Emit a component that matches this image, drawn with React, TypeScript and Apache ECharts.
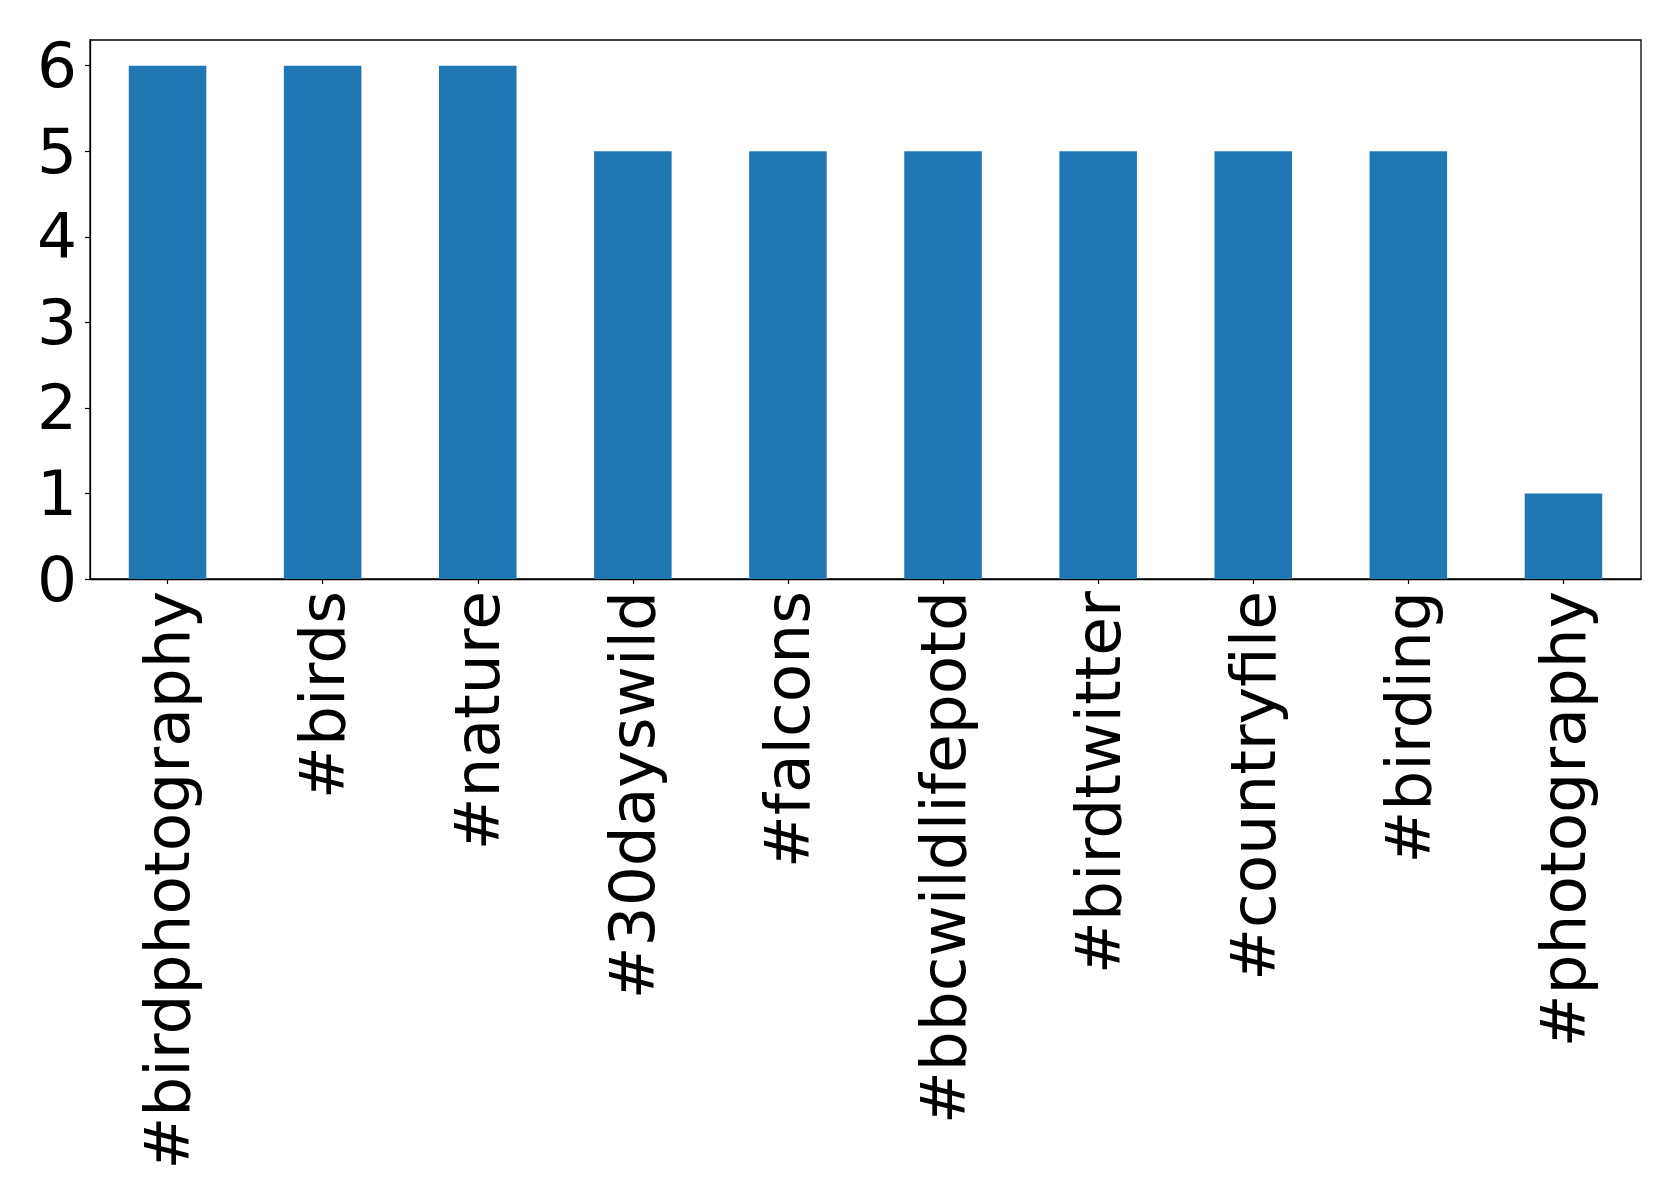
import React, { useEffect, useRef } from "react";
import * as echarts from "echarts";

const categories = [
  "#birdphotography",
  "#birds",
  "#nature",
  "#30dayswild",
  "#falcons",
  "#bbcwildlifepotd",
  "#birdtwitter",
  "#countryfile",
  "#birding",
  "#photography",
];
const counts = [6, 6, 6, 5, 5, 5, 5, 5, 5, 1];
const yTicks = [0, 1, 2, 3, 4, 5, 6];

export default function App() {
  const ref = useRef<HTMLDivElement>(null);
  useEffect(() => {
    if (!ref.current) return;
    const chart = echarts.init(ref.current, null, { renderer: "svg" });
    chart.setOption({
      animation: false,
      backgroundColor: "#ffffff",
      textStyle: { fontFamily: "DejaVu Sans" },
      grid: {
        left: 90,
        right: 38,
        top: 40,
        bottom: 623,
        show: true,
        borderColor: "#000000",
        borderWidth: 1.3,
        containLabel: false,
      },
      xAxis: {
        type: "category",
        data: categories,
        axisLine: { show: true, lineStyle: { color: "#000", width: 1.3 } },
        axisTick: { show: true, alignWithLabel: true, length: 5, lineStyle: { color: "#000", width: 1.2 } },
        axisLabel: {
          rotate: 90,
          interval: 0,
          margin: 12,
          fontSize: 63,
          color: "#000",
          fontFamily: "DejaVu Sans",
        },
        splitLine: { show: false },
      },
      yAxis: {
        type: "value",
        min: 0,
        max: 6.3,
        interval: 1,
        axisLine: { show: true, lineStyle: { color: "#000", width: 1.3 } },
        axisTick: {
          show: true,
          length: 5,
          customValues: yTicks,
          lineStyle: { color: "#000", width: 1.2 },
        },
        axisLabel: {
          customValues: yTicks,
          margin: 13,
          fontSize: 63,
          color: "#000",
          fontFamily: "DejaVu Sans",
        },
        splitLine: { show: false },
      },
      series: [
        {
          type: "bar",
          data: counts,
          barWidth: "50%",
          itemStyle: { color: "#1f77b4" },
        },
      ],
    });
    return () => chart.dispose();
  }, []);
  return (
    <div
      ref={ref}
      style={{ position: "fixed", left: 0, top: 0, width: 1679, height: 1202 }}
    />
  );
}
